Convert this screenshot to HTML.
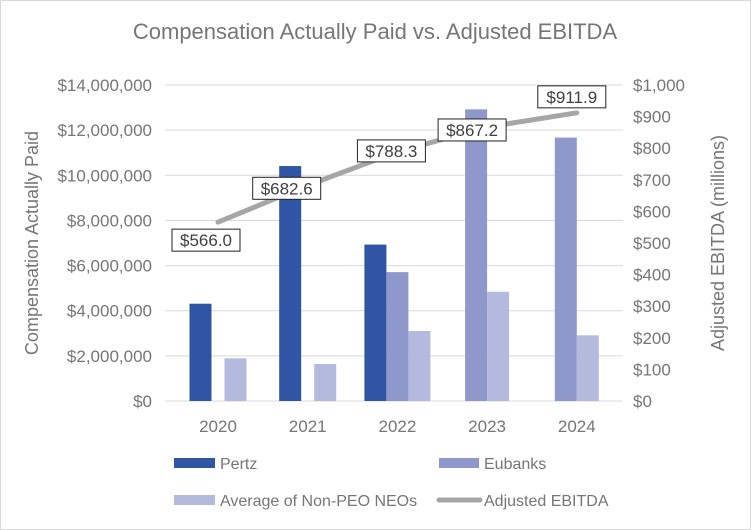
<!DOCTYPE html>
<html><head><meta charset="utf-8"><style>
body{margin:0;background:#fff;}
svg{display:block;font-family:"Liberation Sans",Arial,sans-serif;}
</style></head><body>
<svg id="chart" width="751" height="530">
<rect x="0.5" y="0.5" width="750" height="529" fill="#fff" stroke="#d9d9d9"/>
<text x="375" y="39" text-anchor="middle" font-size="22" fill="#767676">Compensation Actually Paid vs. Adjusted EBITDA</text>
<text transform="translate(38,243) rotate(-90)" text-anchor="middle" font-size="18" fill="#767676">Compensation Actually Paid</text>
<text transform="translate(724,243) rotate(-90)" text-anchor="middle" font-size="18" fill="#767676">Adjusted EBITDA (millions)</text>
<g id="grid"></g><g id="bars"></g><g id="line"></g><g id="axes"></g>
<g font-size="16" fill="#767676">
<rect x="174" y="458" width="41" height="10" fill="#2f55a4"/>
<text x="220" y="469">Pertz</text>
<rect x="439" y="458" width="40" height="10" fill="#8e98cb"/>
<text x="484" y="469">Eubanks</text>
<rect x="174" y="495" width="41" height="10" fill="#b4b9de"/>
<text x="220" y="506">Average of Non-PEO NEOs</text>
<line x1="439" y1="500" x2="480" y2="500" stroke="#a6a6a6" stroke-width="5" stroke-linecap="round"/>
<text x="484" y="506">Adjusted EBITDA</text>
</g>
</svg>
<script>
const categories = ["2020","2021","2022","2023","2024"];
const pertz = [4310000, 10410000, 6930000, null, null];
const eubanks = [null, null, 5710000, 12920000, 11670000];
const nonPeo = [1890000, 1640000, 3100000, 4840000, 2910000];
const ebitda = [566.0, 682.6, 788.3, 867.2, 911.9];
const ebitdaLabels = ["$566.0","$682.6","$788.3","$867.2","$911.9"];
const leftTicks = [0,2000000,4000000,6000000,8000000,10000000,12000000,14000000];
const rightTicks = [0,100,200,300,400,500,600,700,800,900,1000];

const NS="http://www.w3.org/2000/svg";
const y0=401, yTop=85;
const yL=v=>y0-(v/14000000)*(y0-yTop);
const yR=v=>y0-(v/1000)*(y0-yTop);
const xC=i=>218+i*89.7;
function mk(tag,attrs,parent){const e=document.createElementNS(NS,tag);for(const k in attrs)e.setAttribute(k,attrs[k]);parent.appendChild(e);return e;}
const grid=document.getElementById('grid'),bars=document.getElementById('bars'),line=document.getElementById('line'),axes=document.getElementById('axes');
leftTicks.forEach(t=>{
  const g=mk('line',{x1:165,x2:623,y1:yL(t),y2:yL(t),stroke:'#d9d9d9','stroke-width':1},grid);
  
  
  const tx=mk('text',{x:152,y:yL(t)+6,'text-anchor':'end','font-size':17,fill:'#767676'},axes);
  tx.textContent='$'+t.toLocaleString('en-US');
  
  
});
rightTicks.forEach(t=>{
  const tx=mk('text',{x:633,y:yR(t)+6,'font-size':17,fill:'#767676'},axes);
  tx.textContent='$'+t.toLocaleString('en-US');
  
  
});
categories.forEach((c,i)=>{
  const tx=mk('text',{x:xC(i),y:432,'text-anchor':'middle','font-size':17,fill:'#767676'},axes);
  tx.textContent=c;
  
  
});
const series=[{v:pertz,c:'#2f55a4',n:'pertz'},{v:eubanks,c:'#8e98cb',n:'eubanks'},{v:nonPeo,c:'#b4b9de',n:'non-peo'}];
const bw=22;
categories.forEach((c,i)=>{
  const present=[];let gapBefore=[];let missingSeen=false;
  series.forEach(s=>{
    if(s.v[i]==null){if(present.length)missingSeen=true;return;}
    gapBefore.push(missingSeen&&present.length?13:0);present.push(s);missingSeen=false;
  });
  let total=present.length*bw+gapBefore.reduce((a,b)=>a+b,0);
  let x=xC(i)-total/2;
  present.forEach((s,k)=>{
    x+=gapBefore[k];
    const r=mk('rect',{x:x,y:yL(s.v[i]),width:bw,height:y0-yL(s.v[i]),fill:s.c},bars);
    
    
    x+=bw;
  });
});
const pts=ebitda.map((v,i)=>[xC(i),yR(v)]);
const pl=mk('polyline',{points:pts.map(p=>p.join(',')).join(' '),fill:'none',stroke:'#a6a6a6','stroke-width':5,'stroke-linecap':'round'},line);


const lblDx=[-12,-21,-6,-15,-5], lblDy=[18,3,-1,3,-16];
ebitda.forEach((v,i)=>{
  const cx=pts[i][0]+lblDx[i], cy=pts[i][1]+lblDy[i];
  const r=mk('rect',{x:cx-34,y:cy-11,width:68,height:22,fill:'#fff',stroke:'#222','stroke-width':1},line);
  
  
  const t=mk('text',{x:cx,y:cy+6,'text-anchor':'middle','font-size':17,fill:'#404040'},line);
  t.textContent=ebitdaLabels[i];
  
  
});
</script>
</body></html>
